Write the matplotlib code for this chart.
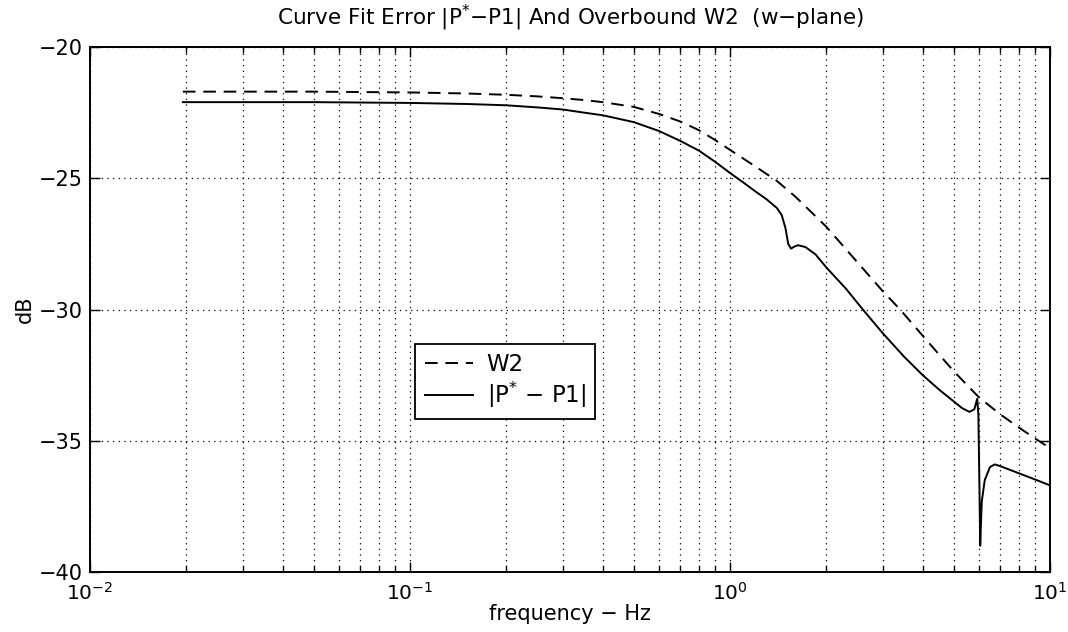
import matplotlib

matplotlib.use("Agg")
import matplotlib.pyplot as plt
from matplotlib.ticker import LogLocator, NullFormatter

# values (frequency in Hz, magnitude in dB)
freq_w2 = [0.0195, 0.05, 0.1, 0.15, 0.2, 0.25, 0.3, 0.35, 0.4, 0.5, 0.6, 0.7,
           0.8, 0.9, 1.0, 1.2, 1.4, 1.6, 2.0, 2.5, 3.0, 3.4, 4.0, 5.0, 6.0,
           7.0, 8.0, 9.0, 10.0]
w2_db = [-21.7, -21.7, -21.73, -21.77, -21.82, -21.88, -21.95, -22.02, -22.1,
         -22.28, -22.55, -22.84, -23.17, -23.55, -23.92, -24.55, -25.1,
         -25.7, -26.85, -28.2, -29.3, -30.0, -31.0, -32.35, -33.35, -34.0,
         -34.5, -34.92, -35.28]

freq_p = [0.0195, 0.05, 0.1, 0.15, 0.2, 0.25, 0.3, 0.35, 0.4, 0.5, 0.6, 0.7,
          0.8, 0.9, 1.0, 1.1, 1.2, 1.3, 1.4, 1.45, 1.49, 1.52, 1.55, 1.59,
          1.63, 1.72, 1.85, 2.0, 2.3, 2.6, 3.0, 3.5, 4.0, 4.5, 5.0, 5.3, 5.6,
          5.8, 5.92, 5.97, 6.02, 6.05, 6.08, 6.12, 6.25, 6.49, 6.72, 7.0, 8.0,
          9.0, 10.0]
p_db = [-22.1, -22.1, -22.13, -22.17, -22.22, -22.3, -22.38, -22.5, -22.6,
        -22.86, -23.2, -23.58, -23.95, -24.38, -24.8, -25.16, -25.5, -25.8,
        -26.13, -26.4, -26.9, -27.5, -27.68, -27.6, -27.55, -27.62, -27.9,
        -28.4, -29.2, -30.0, -30.9, -31.8, -32.5, -33.05, -33.5, -33.75,
        -33.9, -33.8, -33.4, -34.0, -37.0, -39.0, -38.2, -37.3, -36.5, -36.0,
        -35.9, -35.97, -36.24, -36.48, -36.7]

y_ticks = [-40, -35, -30, -25, -20]

plt.rcParams["font.family"] = ["DejaVu Sans"]
plt.rcParams["mathtext.fontset"] = "dejavusans"
plt.rcParams["mathtext.default"] = "regular"

fig = plt.figure(figsize=(10.68, 6.32), dpi=100)
ax = fig.add_axes([0.0843, 0.0949, 0.8989, 0.8307])

ax.plot(freq_w2, w2_db, color="black", linestyle="--", dashes=(6.5, 4),
        linewidth=1.4, label="W2")
ax.plot(freq_p, p_db, color="black", linestyle="-", linewidth=1.4,
        label="|P$^{*}$ \u2212 P1|")

ax.set_xscale("log")
ax.set_xlim(1e-2, 1e1)
ax.set_ylim(-40, -20)
ax.set_yticks(y_ticks)
ax.set_yticklabels([f"\u2212{abs(v)}" for v in y_ticks])
ax.xaxis.set_minor_locator(LogLocator(base=10, subs=range(2, 10), numticks=20))
ax.xaxis.set_minor_formatter(NullFormatter())

grid_style = dict(color="black", linestyle=(0, (1, 3.5)), linewidth=0.9)
ax.grid(True, which="major", axis="both", **grid_style)
ax.grid(True, which="minor", axis="x", **grid_style)

ax.tick_params(which="both", direction="in", top=True, right=True, width=1.0)
ax.tick_params(which="major", length=7)
ax.tick_params(which="minor", length=4)
ax.tick_params(axis="y", labelsize=15, pad=5)
ax.tick_params(axis="x", labelsize=14.5, pad=7)
for spine in ax.spines.values():
    spine.set_linewidth(1.4)

ax.set_xlabel("frequency \u2212 Hz", fontsize=15, labelpad=0)
ax.set_ylabel("dB", fontsize=15, labelpad=3)
ax.set_title("Curve Fit Error |P$^{*}$\u2212P1| And Overbound W2  (w\u2212plane)",
             fontsize=15.5, pad=16)

leg = ax.legend(loc="upper left", bbox_to_anchor=(0.339, 0.434),
                borderaxespad=0, fancybox=False, edgecolor="black",
                framealpha=1, handlelength=2.1, handletextpad=0.6,
                borderpad=0.4, labelspacing=0.15, fontsize=16.5)
leg.get_frame().set_linewidth(1.3)

fig.savefig("out.png", dpi=100)
